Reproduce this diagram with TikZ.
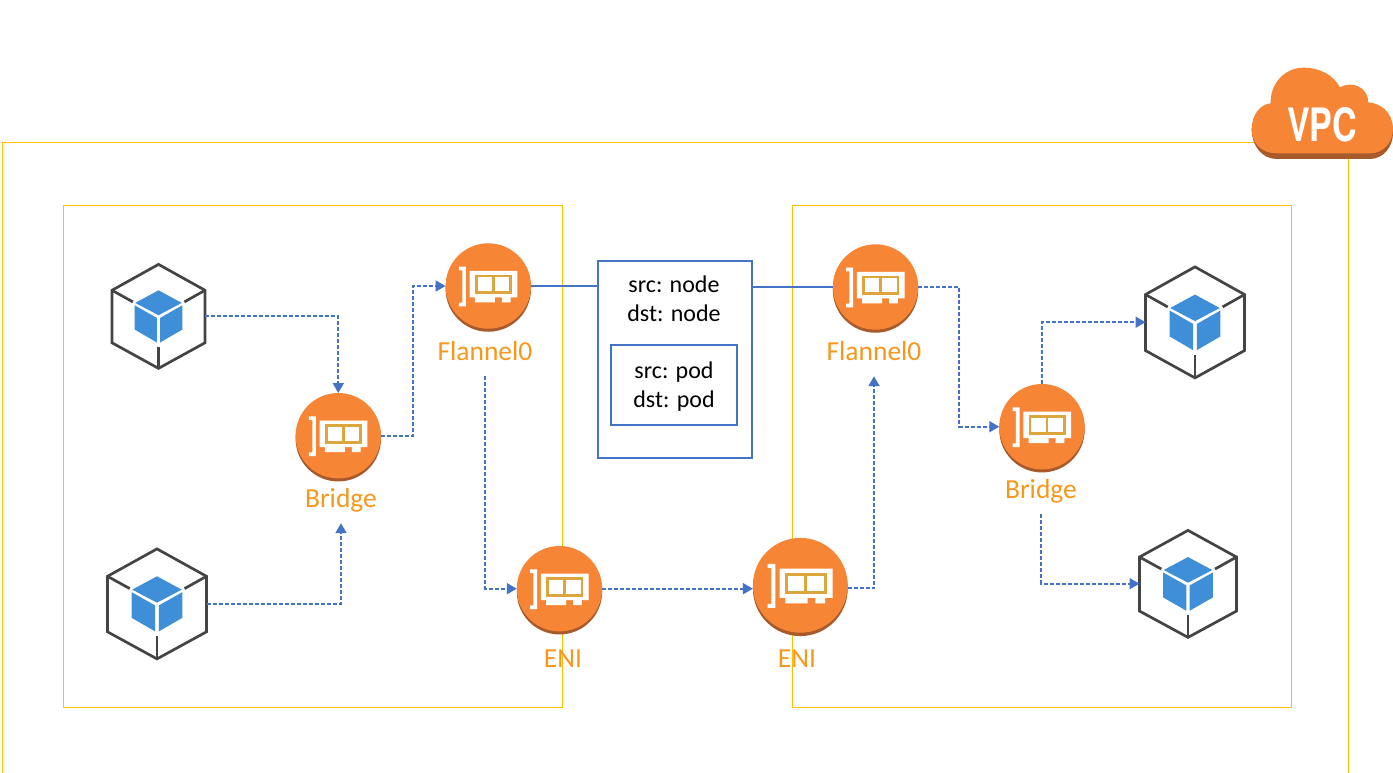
\documentclass[tikz,border=0pt]{standalone}
\usepackage{fontspec}
\setmainfont{Carlito}
\newfontfamily\vpcfont{TeX Gyre Heros}
\usetikzlibrary{arrows.meta,calc}
\definecolor{frameY}{HTML}{FFC000}
\definecolor{linkB}{HTML}{4472C4}
\definecolor{nicO}{HTML}{F78536}
\definecolor{nicS}{HTML}{A85A2A}
\definecolor{cardY}{HTML}{DDA63C}
\definecolor{labelO}{HTML}{F7981D}
\definecolor{cubeG}{HTML}{444444}
\definecolor{cubeB}{HTML}{3F8FD8}
\tikzset{
  x=1pt,y=-1pt,
  yframe/.style={draw=frameY,line width=0.9pt},
  link/.style={draw=linkB,line width=1.9pt,dash pattern=on 4pt off 2pt,-{Triangle[length=10pt,width=11pt]}},
  solidlink/.style={draw=linkB,line width=1.4pt},
  msgbox/.style={draw=linkB,line width=1.4pt,inner sep=0},
  msgtext/.style={font=\fontsize{24}{28}\selectfont,text=black,inner sep=0,align=center},
  niclabel/.style={font=\fontsize{27.5}{32}\selectfont,text=labelO,inner sep=0,minimum height=36pt,text height=.66em,text depth=.2em},
  niccircle/.style={circle,fill=nicO,inner sep=0,outer sep=0},
  nicshade/.style={circle,fill=nicS,inner sep=0,outer sep=0},
  cubebox/.style={inner sep=0,outer sep=0,rectangle},
}
% name, x, y, radius
\newcommand\nicnode[4]{%
  \node[nicshade,minimum size=#4*2pt] (#1-shade) at (#2,{#3+#4/14}) {};
  \node[niccircle,minimum size=#4*2pt] (#1) at (#2,#3) {};
  \begin{scope}[shift={(#2,#3)},x={(#4/128*1pt,0pt)},y={(0pt,-#4/128*1pt)}]
    \fill[white] (-88,-58) -- (-67,-58) -- (-67,61) -- (-88,61) -- (-88,50) -- (-78,50) -- (-78,-47) -- (-88,-47) -- cycle;
    \fill[white] (-56,-45) -- (87,-45) -- (87,34) -- (67,34) -- (67,49) -- (41,49) -- (41,34) -- (20,34) -- (20,49) -- (-40,49) -- (-40,34) -- (-56,34) -- cycle;
    \draw[cardY,line width=2.7pt*#4/42.7,fill=white] (-36,-30) rectangle (67,20);
    \draw[cardY,line width=2.7pt*#4/42.7] (15,-30) -- (15,20);
  \end{scope}
}
% name, x, y, width, height
\newcommand\cubenode[5]{%
  \node[cubebox,minimum width=#4 pt,minimum height=#5 pt] (#1) at (#2,#3) {};
  \begin{scope}[shift={(#2,#3)},x={(#4/280*1pt,0pt)},y={(0pt,-#5/313*1pt)}]
    \draw[cubeG,line width=2.7pt,line join=miter] (0,-156) -- (140,-78) -- (140,80) -- (0,157) -- (-140,80) -- (-140,-78) -- cycle;
    \draw[cubeG,line width=2.7pt] (-140,-78) -- (-77,-43);
    \draw[cubeG,line width=2.7pt] (140,-78) -- (78,-43);
    \draw[cubeG,line width=2.7pt] (0,92) -- (0,157);
    \fill[cubeB] (0,-78) -- (70,-40) -- (0,-3) -- (-70,-40) -- cycle;
    \fill[cubeB] (-72,-33) -- (-5,5) -- (-5,79) -- (-72,40) -- cycle;
    \fill[cubeB] (72,-33) -- (5,5) -- (5,79) -- (72,40) -- cycle;
  \end{scope}
}
\begin{document}
\begin{tikzpicture}
\useasboundingbox (0,0) rectangle (1393,772);
% frames
\draw[yframe] (2.5,780) -- (2.5,142.5) -- (1348.5,142.5) -- (1348.5,780);
\node[yframe,inner sep=0,outer sep=0,minimum width=498.5pt,minimum height=502pt] (nodeL) at (313,456.5) {};
\node[yframe,inner sep=0,outer sep=0,minimum width=498.5pt,minimum height=502pt] (nodeR) at (1042,456.5) {};
% message boxes
\node[msgbox,minimum width=154pt,minimum height=197pt] (outer) at (675,359.5) {};
\node[msgbox,minimum width=126pt,minimum height=80pt] (inner) at (674,385) {};
\node[msgtext] (t1) at (674,284) {src: node};
\node[msgtext] (t2) at (674,313) {dst: node};
\node[msgtext] (t3) at (674,372) {src: pod};
\node[msgtext] (t4) at (674,401) {dst: pod};
% NICs
\nicnode{brL}{338.3}{435.7}{42.7}
\nicnode{flL}{488.3}{286}{42.7}
\nicnode{enL}{559.5}{588.7}{42.7}
\nicnode{enR}{800.3}{585.3}{47.4}
\nicnode{flR}{875.5}{287}{42.7}
\nicnode{brR}{1042}{426.7}{42.7}
% labels
\node[niclabel] (lbrL) at (341,505) {Bridge};
\node[niclabel] (lflL) at (485,358) {Flannel0};
\node[niclabel] (lenL) at (563,665) {ENI};
\node[niclabel] (lenR) at (797,665) {ENI};
\node[niclabel] (lflR) at (874,358) {Flannel0};
\node[niclabel] (lbrR) at (1041,496) {Bridge};
% cubes
\cubenode{cA}{158.5}{316.2}{93}{104}
\cubenode{cB}{157}{603.7}{99}{110}
\cubenode{cC}{1195}{322.2}{99}{111}
\cubenode{cD}{1188}{583.7}{97}{107}
% connectors
\draw[link] (cA.east) -| (brL.north);
\draw[link] (cB.east) -| (lbrL.south);
\draw[link] (brL.east) -| ($(brL.east)!.5!(flL.west)$) |- (flL.west);
\draw[link] (lflL.south) |- (enL.west);
\draw[link] (enL.east) -- (enL.east -| enR.west);
\draw[link] ([yshift=-3pt]enR.east) -| (lflR.south);
\draw[link] (flR.east) -| ($(flR.east)!.5!(brR.west)$) |- (brR.west);
\draw[link] (brR.north) |- (cC.west);
\draw[link] (lbrR.south) |- (cD.west);
\draw[solidlink] (flL.east) -- (flL.east -| outer.west);
\draw[solidlink] (outer.east |- flR.west) -- (flR.west);
% VPC cloud
\begin{scope}[shift={(1240,55)},x={(0.3333pt,0pt)},y={(0pt,-0.3333pt)}]
  \fill[nicS] (35,225) .. controls (35,270) and (65,312) .. (110,312) -- (390,312) .. controls (430,312) and (459,275) .. (459,235) -- (459,220) -- (35,220) -- cycle;
  \fill[nicO] (110,295) .. controls (65,295) and (35,265) .. (35,222)
    .. controls (35,180) and (60,148) .. (92,145)
    .. controls (90,85) and (135,38) .. (190,38)
    .. controls (240,38) and (280,60) .. (300,97)
    .. controls (340,75) and (385,100) .. (385,142)
    .. controls (425,145) and (459,175) .. (459,222)
    .. controls (459,262) and (430,295) .. (390,295) -- cycle;
\end{scope}
\node[text=white,inner sep=0,font=\vpcfont\bfseries\fontsize{46}{46}\selectfont] (vpc) at (1322,125) {\scalebox{.74}[1]{VPC}};
\end{tikzpicture}
\end{document}
